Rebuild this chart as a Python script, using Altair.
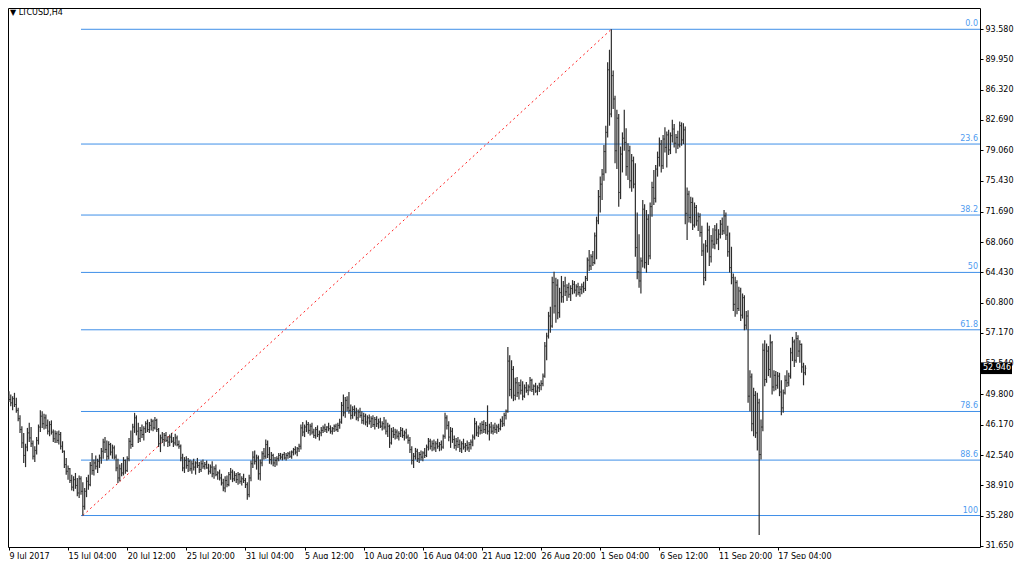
import pandas as pd
import altair as alt

# LTCUSD H4 bars (one value per bar, left to right)
opens = [
    49.6, 49.2, 48.8, 49.3, 48.6, 47.9, 46.9, 45.6, 44.0, 42.5,
    43.5, 45.2, 44.6, 43.9, 42.4, 43.1, 44.3, 45.9, 47.2, 46.3,
    47.0, 46.1, 45.4, 46.2, 45.3, 44.5, 45.1, 44.3, 45.0, 43.6,
    43.0, 41.4, 40.6, 40.9, 39.5, 38.7, 39.6, 38.9, 38.0, 39.7,
    38.2, 36.4, 38.2, 39.4, 39.0, 41.3, 40.7, 41.6, 41.2, 41.8,
    42.2, 43.0, 44.1, 43.2, 42.4, 43.8, 42.9, 43.4, 42.3, 41.0,
    39.8, 40.9, 40.4, 41.9, 40.7, 42.1, 44.2, 43.8, 45.9, 47.0,
    45.4, 44.5, 45.5, 45.0, 45.7, 46.3, 45.6, 46.1, 46.6, 45.8,
    46.7, 45.6, 43.9, 44.6, 44.4, 44.9, 44.3, 44.1, 44.7, 44.2,
    44.0, 44.6, 43.8, 43.6, 42.2, 41.0, 41.9, 41.3, 41.8, 40.9,
    41.5, 41.1, 41.6, 41.3, 40.8, 41.5, 41.2, 41.4, 41.0, 40.6,
    41.1, 40.3, 40.9, 40.2, 40.4, 39.8, 39.2, 38.6, 39.5, 39.0,
    40.2, 40.5, 39.7, 40.1, 39.6, 40.2, 39.4, 39.7, 39.5, 39.0,
    37.8, 39.8, 41.5, 42.3, 41.8, 42.2, 40.3, 41.6, 42.7, 42.4,
    43.8, 42.6, 42.0, 42.5, 41.6, 41.9, 42.1, 42.5, 42.3, 42.6,
    42.2, 42.5, 42.7, 42.4, 42.9, 43.2, 42.9, 43.3, 43.6, 45.8,
    45.3, 45.9, 46.2, 45.5, 46.0, 45.3, 44.9, 45.6, 45.0, 45.2,
    45.5, 45.8, 45.6, 45.9, 45.7, 45.4, 45.7, 46.0, 45.6, 46.1,
    46.5, 48.5, 47.6, 49.1, 48.2, 47.9, 47.3, 48.0, 47.6, 47.0,
    47.7, 47.3, 46.7, 47.2, 46.5, 47.0, 46.6, 46.9, 46.2, 46.8,
    46.3, 46.5, 46.0, 46.3, 45.9, 45.4, 46.0, 44.0, 45.4, 45.0,
    45.3, 44.8, 45.1, 45.5, 44.9, 45.2, 44.7, 44.3, 43.2, 41.9,
    42.4, 43.0, 42.1, 42.6, 42.3, 42.8, 42.5, 43.5, 44.2, 43.6,
    43.9, 43.4, 43.9, 43.6, 43.8, 43.5, 44.8, 47.0, 46.1, 44.7,
    45.4, 44.4, 43.7, 44.2, 43.8, 43.3, 43.9, 43.5, 43.7, 43.4,
    43.8, 44.1, 44.7, 46.3, 45.2, 45.8, 45.5, 46.2, 45.6, 46.1,
    45.4, 45.9, 45.4, 45.8, 45.6, 45.9, 45.7, 46.6, 46.3, 47.3,
    47.8, 53.8, 50.4, 52.8, 49.7, 51.2, 50.0, 50.9, 50.3, 49.6,
    50.6, 50.3, 50.7, 51.5, 50.4, 50.8, 50.2, 50.6, 50.9, 51.1,
    52.0, 55.6, 56.8, 59.2, 58.0, 63.2, 60.4, 62.9, 59.6, 62.0,
    61.5, 62.8, 62.1, 62.6, 61.8, 62.5, 63.0, 62.3, 62.7, 62.0,
    62.4, 62.7, 62.5, 63.7, 65.9, 65.2, 66.3, 65.6, 68.8, 70.6,
    73.5, 75.0, 76.2, 78.9, 81.2, 88.7, 83.4, 88.0, 85.2, 79.0,
    82.9, 74.0, 78.6, 80.5, 80.0, 77.1, 79.0, 75.4, 77.8, 75.0,
    67.4, 64.5, 63.4, 65.8, 72.0, 65.6, 70.8, 66.4, 72.3, 74.6,
    73.3, 76.8, 78.2, 79.8, 77.2, 80.4, 79.4, 80.9, 79.1, 80.8,
    81.6, 79.9, 80.6, 79.7, 82.0, 80.3, 81.5, 71.5, 73.8, 71.0,
    72.8, 70.1, 72.2, 70.6, 71.1, 69.2, 67.0, 63.8, 67.6, 69.5,
    66.3, 68.2, 67.8, 69.5, 68.4, 69.0, 70.2, 69.4, 71.2, 68.9,
    66.9, 65.0, 63.8, 60.6, 63.2, 60.1, 62.2, 59.3, 61.4, 58.1,
    59.2, 49.6, 51.9, 46.3, 49.7, 45.2, 48.8, 42.6, 45.9, 55.1,
    51.6, 55.0, 52.8, 56.0, 50.7, 52.1, 50.9, 52.0, 50.1, 48.2,
    50.0, 51.5, 51.2, 52.0, 54.8, 56.1, 53.9, 56.5, 55.0, 55.8, 53.1, 52.4,
]
highs = [
    50.2, 49.8, 49.6, 50.0, 49.4, 48.2, 47.3, 46.0, 45.2, 43.9,
    45.8, 46.4, 45.9, 44.3, 43.6, 44.7, 46.2, 47.9, 47.8, 47.5,
    47.4, 46.8, 46.6, 46.7, 45.6, 45.5, 45.4, 45.5, 45.3, 44.2,
    43.1, 42.2, 41.3, 41.0, 40.2, 40.0, 40.4, 39.8, 40.1, 40.0,
    39.3, 38.6, 39.9, 40.2, 41.7, 42.8, 42.0, 42.5, 42.1, 42.6,
    43.4, 44.5, 44.7, 44.3, 44.2, 44.0, 43.8, 43.7, 42.6, 42.1,
    41.4, 41.6, 42.3, 42.0, 42.4, 44.6, 45.5, 46.3, 47.6, 47.3,
    46.4, 45.9, 46.2, 46.0, 46.6, 46.8, 46.5, 46.9, 46.8, 47.1,
    46.9, 45.8, 45.0, 45.3, 45.2, 45.3, 44.8, 45.0, 45.2, 44.7,
    45.1, 44.9, 44.3, 43.8, 42.7, 42.3, 42.4, 42.2, 42.0, 41.9,
    42.1, 41.8, 42.2, 41.7, 41.9, 42.0, 41.7, 41.9, 41.5, 41.4,
    41.8, 41.2, 41.4, 40.6, 40.8, 40.3, 39.7, 40.0, 40.1, 40.5,
    41.0, 40.8, 40.6, 40.4, 40.5, 40.4, 40.0, 40.3, 39.8, 39.3,
    40.2, 41.9, 43.0, 43.1, 42.6, 42.5, 42.0, 43.0, 43.4, 44.4,
    44.3, 43.5, 42.9, 42.7, 42.3, 42.4, 42.8, 42.8, 42.7, 42.9,
    42.8, 42.9, 43.0, 43.1, 43.4, 43.6, 43.5, 43.9, 46.2, 46.5,
    46.2, 46.7, 46.5, 46.3, 46.4, 45.7, 45.9, 46.1, 45.5, 45.9,
    46.1, 46.3, 46.0, 46.4, 46.1, 45.9, 46.2, 46.3, 46.4, 46.9,
    48.9, 49.8, 49.5, 49.6, 50.1, 48.6, 48.4, 48.5, 48.2, 48.0,
    48.2, 47.8, 47.6, 47.5, 47.3, 47.4, 47.2, 47.3, 47.1, 47.2,
    46.9, 47.0, 46.6, 47.1, 46.8, 46.4, 46.2, 45.8, 45.9, 45.7,
    45.6, 45.4, 45.9, 45.8, 45.5, 45.7, 45.0, 44.7, 43.6, 42.8,
    43.4, 43.3, 42.9, 43.1, 43.0, 43.4, 43.8, 44.6, 44.5, 44.3,
    44.4, 44.2, 44.5, 44.1, 44.3, 45.0, 47.6, 47.3, 46.6, 45.9,
    45.8, 44.9, 44.6, 44.7, 44.4, 44.2, 44.5, 44.0, 44.3, 44.1,
    44.4, 45.0, 47.0, 46.6, 46.1, 46.4, 46.6, 46.7, 46.5, 48.5,
    46.3, 46.5, 46.2, 46.4, 46.2, 46.3, 46.9, 47.2, 47.6, 48.0,
    55.5, 54.5, 53.9, 53.2, 51.8, 51.9, 51.3, 51.6, 51.4, 51.0,
    51.3, 51.0, 51.9, 51.7, 51.0, 51.2, 50.9, 51.2, 51.5, 52.3,
    56.1, 57.2, 59.7, 60.3, 63.9, 64.5, 63.8, 63.6, 62.6, 64.0,
    63.4, 63.9, 63.0, 63.2, 62.9, 63.5, 63.4, 63.0, 63.2, 62.8,
    63.1, 63.3, 64.0, 66.2, 67.1, 66.6, 67.0, 69.2, 71.1, 74.3,
    75.9, 76.8, 79.7, 82.0, 89.6, 91.1, 93.55, 88.6, 85.6, 83.9,
    83.4, 79.5, 81.2, 83.9, 81.7, 79.9, 79.6, 78.6, 78.3, 77.5,
    71.6, 69.0, 66.2, 73.1, 72.6, 71.9, 71.4, 72.8, 75.3, 76.7,
    77.3, 78.9, 80.6, 80.3, 80.9, 81.8, 81.3, 81.5, 81.2, 82.7,
    82.2, 81.0, 81.4, 82.5, 82.4, 82.3, 81.9, 74.6, 74.2, 73.5,
    73.4, 72.8, 72.5, 71.6, 71.5, 70.0, 67.9, 68.3, 70.4, 70.0,
    68.9, 69.7, 70.1, 70.3, 69.6, 70.7, 71.0, 71.9, 71.6, 70.0,
    69.2, 67.5, 64.3, 63.9, 63.5, 62.7, 62.6, 61.9, 61.7, 59.8,
    59.9, 52.7, 52.3, 50.6, 50.2, 50.0, 49.3, 46.8, 55.9, 56.3,
    55.9, 55.6, 57.0, 56.2, 52.7, 52.6, 52.5, 52.4, 51.5, 50.4,
    52.1, 52.7, 52.4, 55.4, 56.7, 56.4, 57.3, 56.9, 56.3, 55.9, 53.6, 53.3,
]
lows = [
    48.9, 48.4, 47.9, 48.3, 47.6, 46.6, 45.2, 43.4, 41.6, 41.1,
    43.0, 44.1, 43.5, 42.0, 41.7, 42.6, 43.8, 45.3, 45.8, 45.6,
    45.7, 45.0, 44.8, 45.0, 44.1, 44.0, 44.0, 43.8, 43.2, 42.8,
    41.0, 40.2, 39.6, 39.2, 38.3, 38.2, 38.5, 37.6, 37.4, 37.8,
    35.3, 36.0, 37.5, 38.4, 38.8, 40.2, 40.1, 40.8, 40.4, 41.0,
    41.5, 42.1, 42.8, 41.9, 42.0, 42.5, 42.1, 42.0, 40.6, 39.2,
    39.4, 40.0, 40.1, 40.3, 40.5, 41.8, 43.3, 43.5, 45.2, 44.9,
    44.0, 44.1, 44.6, 44.3, 45.2, 45.3, 45.2, 45.5, 45.4, 45.6,
    45.3, 43.5, 42.9, 44.0, 43.6, 44.1, 43.5, 43.6, 44.0, 43.5,
    43.7, 43.6, 43.3, 41.8, 40.6, 40.4, 40.9, 40.5, 40.6, 40.3,
    40.7, 40.2, 41.0, 40.4, 40.5, 40.9, 40.8, 40.9, 40.2, 40.3,
    39.9, 39.7, 40.0, 39.6, 39.5, 38.9, 38.2, 38.1, 38.7, 38.8,
    39.6, 39.3, 39.4, 39.2, 39.0, 39.1, 38.9, 39.2, 38.6, 37.2,
    37.5, 39.4, 41.0, 41.4, 40.8, 39.6, 39.5, 41.2, 42.0, 42.1,
    42.2, 41.5, 41.4, 41.2, 41.1, 41.3, 41.8, 42.0, 41.9, 42.0,
    41.9, 42.1, 42.2, 42.1, 42.5, 42.6, 42.4, 42.9, 43.2, 44.8,
    44.7, 45.3, 45.1, 44.9, 45.0, 44.6, 44.5, 44.7, 44.3, 44.8,
    45.2, 45.3, 45.2, 45.4, 45.1, 45.0, 45.3, 45.4, 45.3, 45.7,
    46.3, 47.2, 47.0, 47.8, 47.5, 46.8, 46.9, 47.2, 46.7, 46.6,
    47.0, 46.3, 46.2, 46.1, 45.9, 46.2, 45.8, 45.9, 45.6, 45.9,
    45.7, 45.8, 45.5, 45.6, 45.0, 44.7, 43.4, 43.8, 44.6, 44.4,
    44.5, 44.3, 44.7, 44.6, 44.3, 44.5, 43.9, 42.8, 41.4, 41.0,
    42.0, 41.7, 41.6, 41.9, 41.8, 42.2, 42.3, 43.1, 43.2, 43.0,
    43.1, 42.9, 43.3, 43.0, 43.1, 43.3, 44.5, 45.6, 44.2, 43.4,
    44.0, 43.3, 43.1, 43.4, 42.9, 42.8, 43.2, 42.9, 43.1, 42.9,
    43.2, 43.6, 44.4, 44.8, 44.7, 45.0, 45.1, 45.2, 45.1, 45.0,
    44.3, 45.1, 45.0, 45.2, 45.1, 45.3, 45.5, 45.9, 46.0, 46.8,
    47.6, 49.6, 49.3, 49.0, 49.1, 49.5, 49.2, 49.8, 49.1, 49.4,
    50.0, 49.7, 50.2, 50.1, 49.7, 50.0, 49.7, 50.1, 50.3, 50.8,
    51.8, 53.9, 56.5, 57.2, 57.8, 59.5, 58.4, 58.8, 59.0, 60.8,
    60.8, 61.6, 61.0, 61.4, 61.0, 61.8, 61.9, 61.5, 61.7, 61.5,
    61.8, 62.0, 62.2, 63.4, 64.6, 64.7, 65.2, 65.4, 66.0, 70.2,
    71.6, 73.1, 75.4, 76.3, 80.6, 82.0, 83.0, 84.0, 77.5, 76.8,
    72.3, 73.2, 76.4, 79.0, 76.0, 75.5, 74.5, 74.1, 74.5, 66.3,
    63.6, 62.6, 61.9, 65.0, 64.9, 64.4, 65.3, 66.0, 71.1, 72.5,
    72.8, 75.9, 77.1, 76.4, 76.8, 78.8, 77.0, 78.5, 78.6, 80.0,
    79.4, 78.7, 79.2, 79.4, 79.6, 79.8, 70.2, 68.3, 70.4, 70.3,
    69.5, 69.8, 70.0, 69.4, 68.7, 66.4, 62.9, 63.4, 66.8, 65.2,
    65.6, 67.3, 67.2, 67.8, 67.1, 68.5, 68.9, 69.0, 68.3, 66.3,
    64.4, 63.0, 59.8, 59.1, 59.4, 59.8, 58.6, 58.9, 57.5, 57.6,
    48.8, 47.8, 45.4, 44.8, 44.6, 43.1, 32.97, 42.0, 45.4, 50.8,
    51.2, 52.0, 51.8, 49.8, 50.2, 50.3, 50.5, 49.6, 47.3, 47.6,
    49.8, 50.7, 50.8, 51.7, 53.8, 53.1, 53.6, 54.3, 53.6, 52.4, 50.9, 52.1,
]
closes = [
    49.2, 48.8, 49.3, 48.6, 47.9, 46.9, 45.6, 44.0, 42.5, 43.5,
    45.2, 44.6, 43.9, 42.4, 43.1, 44.3, 45.9, 47.2, 46.3, 47.0,
    46.1, 45.4, 46.2, 45.3, 44.5, 45.1, 44.3, 45.0, 43.6, 43.0,
    41.4, 40.6, 40.9, 39.5, 38.7, 39.6, 38.9, 38.0, 39.7, 38.2,
    36.4, 38.2, 39.4, 39.0, 41.3, 40.7, 41.6, 41.2, 41.8, 42.2,
    43.0, 44.1, 43.2, 42.4, 43.8, 42.9, 43.4, 42.3, 41.0, 39.8,
    40.9, 40.4, 41.9, 40.7, 42.1, 44.2, 43.8, 45.9, 47.0, 45.4,
    44.5, 45.5, 45.0, 45.7, 46.3, 45.6, 46.1, 46.6, 45.8, 46.7,
    45.6, 43.9, 44.6, 44.4, 44.9, 44.3, 44.1, 44.7, 44.2, 44.0,
    44.6, 43.8, 43.6, 42.2, 41.0, 41.9, 41.3, 41.8, 40.9, 41.5,
    41.1, 41.6, 41.3, 40.8, 41.5, 41.2, 41.4, 41.0, 40.6, 41.1,
    40.3, 40.9, 40.2, 40.4, 39.8, 39.2, 38.6, 39.5, 39.0, 40.2,
    40.5, 39.7, 40.1, 39.6, 40.2, 39.4, 39.7, 39.5, 39.0, 37.8,
    39.8, 41.5, 42.3, 41.8, 42.2, 40.3, 41.6, 42.7, 42.4, 43.8,
    42.6, 42.0, 42.5, 41.6, 41.9, 42.1, 42.5, 42.3, 42.6, 42.2,
    42.5, 42.7, 42.4, 42.9, 43.2, 42.9, 43.3, 43.6, 45.8, 45.3,
    45.9, 46.2, 45.5, 46.0, 45.3, 44.9, 45.6, 45.0, 45.2, 45.5,
    45.8, 45.6, 45.9, 45.7, 45.4, 45.7, 46.0, 45.6, 46.1, 46.5,
    48.5, 47.6, 49.1, 48.2, 47.9, 47.3, 48.0, 47.6, 47.0, 47.7,
    47.3, 46.7, 47.2, 46.5, 47.0, 46.6, 46.9, 46.2, 46.8, 46.3,
    46.5, 46.0, 46.3, 45.9, 45.4, 46.0, 44.0, 45.4, 45.0, 45.3,
    44.8, 45.1, 45.5, 44.9, 45.2, 44.7, 44.3, 43.2, 41.9, 42.4,
    43.0, 42.1, 42.6, 42.3, 42.8, 42.5, 43.5, 44.2, 43.6, 43.9,
    43.4, 43.9, 43.6, 43.8, 43.5, 44.8, 47.0, 46.1, 44.7, 45.4,
    44.4, 43.7, 44.2, 43.8, 43.3, 43.9, 43.5, 43.7, 43.4, 43.8,
    44.1, 44.7, 46.3, 45.2, 45.8, 45.5, 46.2, 45.6, 46.1, 45.4,
    45.9, 45.4, 45.8, 45.6, 45.9, 45.7, 46.6, 46.3, 47.3, 47.8,
    53.8, 50.4, 52.8, 49.7, 51.2, 50.0, 50.9, 50.3, 49.6, 50.6,
    50.3, 50.7, 51.5, 50.4, 50.8, 50.2, 50.6, 50.9, 51.1, 52.0,
    55.6, 56.8, 59.2, 58.0, 63.2, 60.4, 62.9, 59.6, 62.0, 61.5,
    62.8, 62.1, 62.6, 61.8, 62.5, 63.0, 62.3, 62.7, 62.0, 62.4,
    62.7, 62.5, 63.7, 65.9, 65.2, 66.3, 65.6, 68.8, 70.6, 73.5,
    75.0, 76.2, 78.9, 81.2, 88.7, 83.4, 88.0, 85.2, 79.0, 82.9,
    74.0, 78.6, 80.5, 80.0, 77.1, 79.0, 75.4, 77.8, 75.0, 67.4,
    64.5, 63.4, 65.8, 72.0, 65.6, 70.8, 66.4, 72.3, 74.6, 73.3,
    76.8, 78.2, 79.8, 77.2, 80.4, 79.4, 80.9, 79.1, 80.8, 81.6,
    79.9, 80.6, 79.7, 82.0, 80.3, 81.5, 71.5, 73.8, 71.0, 72.8,
    70.1, 72.2, 70.6, 71.1, 69.2, 67.0, 63.8, 67.6, 69.5, 66.3,
    68.2, 67.8, 69.5, 68.4, 69.0, 70.2, 69.4, 71.2, 68.9, 66.9,
    65.0, 63.8, 60.6, 63.2, 60.1, 62.2, 59.3, 61.4, 58.1, 59.2,
    49.6, 51.9, 46.3, 49.7, 45.2, 48.8, 42.6, 45.9, 55.1, 51.6,
    55.0, 52.8, 56.0, 50.7, 52.1, 50.9, 52.0, 50.1, 48.2, 50.0,
    51.5, 51.2, 52.0, 54.8, 56.1, 53.9, 56.5, 55.0, 55.8, 53.1, 52.4, 52.946,
]

# time axis: a label every 32 bars
tick_bars = [0, 32, 64, 96, 128, 160, 192, 224, 256, 288, 320, 352, 384, 416]
tick_labels = [
    "9 Jul 2017", "15 Jul 04:00", "20 Jul 12:00", "25 Jul 20:00", "31 Jul 04:00",
    "5 Aug 12:00", "10 Aug 20:00", "16 Aug 04:00", "21 Aug 12:00", "26 Aug 20:00",
    "1 Sep 04:00", "6 Sep 12:00", "11 Sep 20:00", "17 Sep 04:00",
]
price_ticks = [93.58, 89.95, 86.32, 82.69, 79.06, 75.43, 71.69, 68.06, 64.43,
               60.80, 57.17, 53.54, 49.80, 46.17, 42.54, 38.91, 35.28, 31.65]

fib_levels = [0, 23.6, 38.2, 50, 61.8, 78.6, 88.6, 100]
fib_names = ["0.0", "23.6", "38.2", "50", "61.8", "78.6", "88.6", "100"]
swing_low_bar = 40
swing_high_bar = 326
last_price = 52.946

W, H = 972, 539
FONT = "DejaVu Sans"
BAR = "#2e2e2e"
FIB = "#3f8fe8"

n = min(len(opens), len(highs), len(lows), len(closes))
bars = pd.DataFrame({
    "i": list(range(n)),
    "open": opens[:n], "high": highs[:n], "low": lows[:n], "close": closes[:n],
})
bars["left"] = bars["i"] - 0.5
bars["right"] = bars["i"] + 0.5

fib_hi = highs[swing_high_bar]
fib_lo = lows[swing_low_bar]
fib = pd.DataFrame({
    "level": fib_names,
    "price": [fib_hi - lv / 100 * (fib_hi - fib_lo) for lv in fib_levels],
    "start": swing_low_bar - 1,
})
trend = pd.DataFrame({"i": [swing_low_bar, swing_high_bar], "price": [fib_lo, fib_hi]})
last = pd.DataFrame({"price": [last_price], "top": [last_price + 0.7],
                     "bottom": [last_price - 0.7], "txt": [f"{last_price:.3f}"]})

labels_js = "[" + ",".join(f"'{t}'" for t in tick_labels) + "]"
x_axis = alt.Axis(values=tick_bars, labelExpr=f"{labels_js}[round(datum.value / 32)]",
                  orient="bottom", grid=False, domain=False, tickSize=3, tickColor="#000",
                  labelAlign="left", labelPadding=2, labelFont=FONT, labelFontSize=8,
                  labelColor="#000", labelOverlap=False, labelFlush=False, labelBound=False)
y_axis = alt.Axis(values=price_ticks, labelExpr="format(datum.value, '.3f')",
                  orient="right", grid=False, domain=False, tickSize=3, tickColor="#000",
                  labelPadding=2, labelFont=FONT, labelFontSize=8, labelColor="#000",
                  labelOverlap=False, labelFlush=False, labelBound=False)
xs = alt.Scale(domain=[-0.5, 525.5], nice=False, zero=False)
ys = alt.Scale(domain=[31.53, 96.1], nice=False, zero=False)


def X(f):
    return alt.X(f"{f}:Q", scale=xs, axis=x_axis, title=None)


def Y(f):
    return alt.Y(f"{f}:Q", scale=ys, axis=y_axis, title=None)


hl = alt.Chart(bars).mark_rule(color=BAR, strokeWidth=1.2).encode(x=X("i"), y=Y("low"), y2="high")
op = alt.Chart(bars).mark_rule(color=BAR, strokeWidth=1).encode(x=X("left"), x2="i", y=Y("open"))
cl = alt.Chart(bars).mark_rule(color=BAR, strokeWidth=1).encode(x=X("i"), x2="right", y=Y("close"))

fib_lines = alt.Chart(fib).mark_rule(color=FIB, strokeWidth=1).encode(
    x=X("start"), x2=alt.value(W), y=Y("price"))
fib_text = alt.Chart(fib).mark_text(align="right", baseline="bottom", dy=-1, color="#4f9bf0",
                                    font=FONT, fontSize=8).encode(
    x=alt.value(W - 2), y=Y("price"), text="level:N")
trend_line = alt.Chart(trend).mark_line(color="#ff1e1e", strokeDash=[2, 3], strokeWidth=1).encode(
    x=X("i"), y=Y("price"))

title = alt.Chart(pd.DataFrame({"t": ["\u25bc LTCUSD,H4"]})).mark_text(
    align="left", baseline="top", font=FONT, fontSize=8, color="#000").encode(
    x=alt.value(2), y=alt.value(1), text="t:N")

box = alt.Chart(last).mark_rect(color="#000").encode(
    x=alt.value(W), x2=alt.value(W + 32), y=Y("top"), y2="bottom")
box_text = alt.Chart(last).mark_text(align="left", baseline="middle", color="#fff",
                                     font=FONT, fontSize=8).encode(
    x=alt.value(W + 3), y=Y("price"), text="txt:N")

chart = alt.layer(
    fib_lines, trend_line, hl, op, cl, fib_text, title, box, box_text
).properties(
    width=W, height=H,
    autosize=alt.AutoSizeParams(type="none"),
    padding={"left": 0, "top": 0, "right": 36, "bottom": 12},
    background="#ffffff",
).configure_view(stroke="#000000", strokeWidth=1)

chart.save("out.html", embed_options={"renderer": "svg", "actions": False})
